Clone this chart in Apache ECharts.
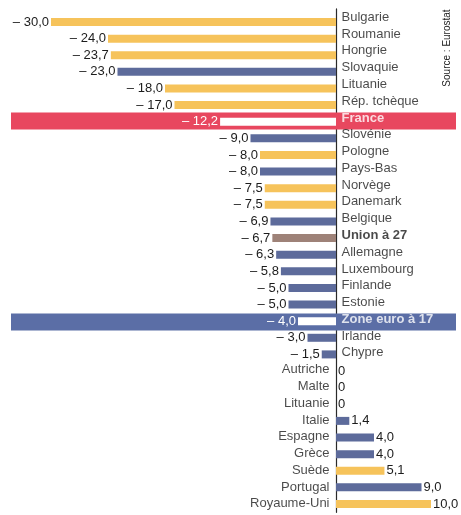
<!DOCTYPE html>
<html><head><meta charset="utf-8">
<script src="https://cdn.jsdelivr.net/npm/echarts@6/dist/echarts.min.js"></script>
<style>html,body{margin:0;padding:0;background:#fff}#c{width:461px;height:515px}</style>
</head><body><div id="c"></div>
<script>
const categories = ['Bulgarie','Roumanie','Hongrie','Slovaquie','Lituanie','Rép. tchèque','France','Slovénie','Pologne','Pays-Bas','Norvège','Danemark','Belgique','Union à 27','Allemagne','Luxembourg','Finlande','Estonie','Zone euro à 17','Irlande','Chypre','Autriche','Malte','Lituanie','Italie','Espagne','Grèce','Suède','Portugal','Royaume-Uni'];
const values = [-30.0,-24.0,-23.7,-23.0,-18.0,-17.0,-12.2,-9.0,-8.0,-8.0,-7.5,-7.5,-6.9,-6.7,-6.3,-5.8,-5.0,-5.0,-4.0,-3.0,-1.5,0,0,0,1.4,4.0,4.0,5.1,9.0,10.0];
const groups = ['hors','hors','hors','euro','hors','hors','fr','euro','hors','euro','hors','hors','euro','ue','euro','euro','euro','euro','ze','euro','euro','euro','euro','hors','euro','euro','euro','hors','euro','hors'];
const xMin = -30, xMax = 10;
const sourceText = 'Source : Eurostat';

const COLORS = {hors:'#f6c35b', euro:'#5d6b9b', ue:'#9e8278', fr:'#ffffff', ze:'#ffffff'};
const BAND = {fr:'#e8475f', ze:'#5b6ea6'};
const FONT = "'Liberation Sans', Arial, sans-serif";
const TXT = '#1c1c1c';

function fmt(v){
  if (v === 0) return '0';
  const s = Math.abs(v).toFixed(1).replace('.', ',');
  return v < 0 ? '– ' + s : s;
}
function isHi(g){ return g === 'fr' || g === 'ze'; }

const chart = echarts.init(document.getElementById('c'), null, {renderer:'canvas'});
chart.setOption({
  animation:false,
  backgroundColor:'#ffffff',
  grid:[
    {left:51, right:30, top:13.7, height:498.6, outerBoundsMode:'none', containLabel:false},
    {left:51, right:30, top:8.9, height:503.4, outerBoundsMode:'none', containLabel:false},
    {left:11, right:5, top:12.1, height:502.5, outerBoundsMode:'none', containLabel:false}
  ],
  xAxis:[
    {type:'value', gridIndex:0, min:xMin, max:xMax, show:false},
    {type:'value', gridIndex:1, min:xMin, max:xMax, show:false},
    {type:'value', gridIndex:2, min:0, max:1, show:false}
  ],
  yAxis:[
    {type:'category', gridIndex:0, inverse:true, data:categories, show:false},
    {type:'category', gridIndex:1, inverse:true, data:categories, z:0,
      axisLine:{show:true, onZero:true, lineStyle:{color:'#2a2a2a', width:1.2}},
      axisTick:{show:false}, splitLine:{show:false}, axisLabel:{show:false}},
    {type:'category', gridIndex:2, inverse:true, data:categories, show:false}
  ],
  series:[
    {type:'bar', name:'band', xAxisIndex:2, yAxisIndex:2, barWidth:17, z:1, silent:true,
      data: groups.map(g => BAND[g] ? {value:1, itemStyle:{color:BAND[g]}} : '-')},
    {type:'bar', name:'values', xAxisIndex:0, yAxisIndex:0, barWidth:8, z:2,
      label:{show:true, distance:2, fontSize:13, fontFamily:FONT, formatter:p=>fmt(p.value)},
      data: values.map((v,i) => ({
        value:v,
        itemStyle:{color:COLORS[groups[i]]},
        label:{position: v < 0 ? 'left' : 'right',
               color: isHi(groups[i]) ? '#ffffff' : TXT}
      }))},
    {type:'scatter', name:'names', xAxisIndex:1, yAxisIndex:1, z:5, silent:true,
      symbolSize:1, itemStyle:{color:'rgba(0,0,0,0)'},
      label:{show:true, fontSize:13, fontFamily:FONT, color:TXT, formatter:p=>categories[p.dataIndex]},
      data: categories.map((c,i) => ({
        value:[0, i],
        label:{
          position: values[i] < 0 ? 'right' : 'left',
          distance: values[i] < 0 ? 5 : 6,
          color: isHi(groups[i]) ? '#ffffff' : TXT,
          fontWeight: (isHi(groups[i]) || groups[i]==='ue') ? 'bold' : 'normal'
        }
      }))}
  ],
  graphic:[
    {type:'text', x:447, y:48, rotation:Math.PI/2, z:10,
      style:{text:sourceText, fill:TXT, font:"10px 'Liberation Sans', Arial, sans-serif", textAlign:'center', textVerticalAlign:'middle'}}
  ]
});
</script></body></html>
